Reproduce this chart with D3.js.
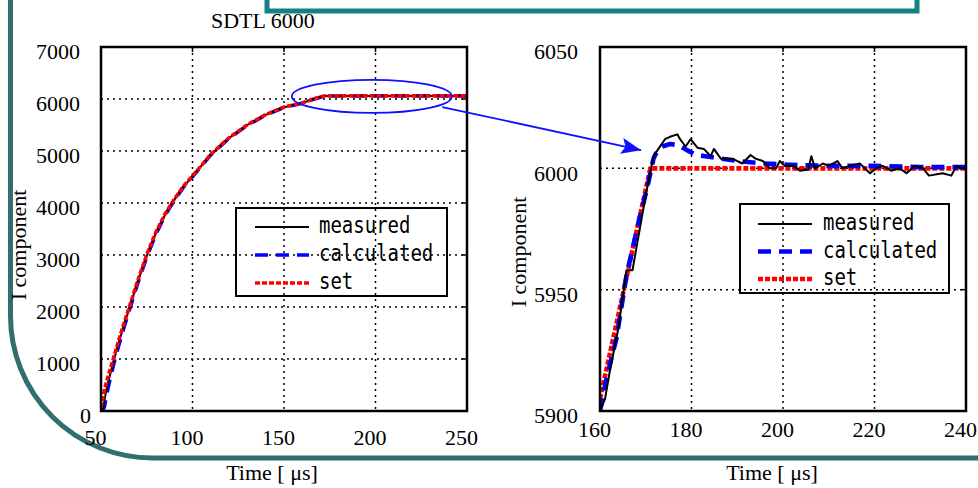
<!DOCTYPE html>
<html>
<head>
<meta charset="utf-8">
<script src="https://cdn.jsdelivr.net/npm/d3@7"></script>
<style>
  body { margin: 0; background: #fff; }
  svg { display: block; }
</style>
</head>
<body>
<svg id="chart"></svg>
<script>
// Left panel: full step response (time in us, I component)
var timeL = [50, 51, 52, 53, 55, 57.5, 60, 62.5, 65, 70, 75, 80, 85, 90, 95, 100, 110, 120, 130, 140, 150, 160, 166, 172, 200, 225, 250]
var setL  = [60, 250, 420, 560, 800, 1100, 1400, 1680, 1950, 2500, 3010, 3440, 3790, 4070, 4320, 4520, 4935, 5255, 5505, 5700, 5845, 5925, 6000, 6060, 6060, 6060, 6060]
var calcL = [0, 0, 100, 300, 620, 980, 1300, 1600, 1880, 2450, 2960, 3400, 3760, 4050, 4300, 4505, 4925, 5245, 5495, 5692, 5838, 5920, 5996, 6058, 6060, 6060, 6060]
var measL = [0, 30, 220, 420, 700, 1040, 1350, 1640, 1920, 2480, 2985, 3420, 3775, 4060, 4310, 4512, 4930, 5250, 5500, 5696, 5842, 5922, 5998, 6060, 6060, 6060, 6060]

// Right panel: zoom of the settling part
var timeSetR = [160, 171, 240]
var setR     = [5905, 6000, 6000]
var timeCalcR = [160, 161.5, 163.6, 165.8, 168.7, 170.2, 171.7, 172.2, 173.6, 175.3, 177.1, 178.9, 181, 183, 186.5, 190.2, 195.6, 201.4, 210, 220, 230, 240]
var calcR     = [5900, 5914, 5930, 5956, 5980, 5991, 6004, 6006, 6009, 6010, 6009.6, 6007.6, 6005.5, 6005, 6004, 6003, 6002, 6001.5, 6001, 6001, 6000.5, 6000.5]
var timeMeasR = [160, 161.1, 162.2, 164, 165.8, 167.1, 170.2, 171.7, 172.4, 174.2, 175.3, 176.9, 177.5, 178.7, 179.8, 181.3, 182.7, 184.2, 184.9, 186.4, 188.9, 191.1, 192.9, 194, 195.6, 197.1, 198.5, 199.3, 200.4, 202.2, 203.7, 205.5, 206.2, 207, 208.7, 210, 211.9, 213, 214.5, 216.8, 219, 220.4, 221.8, 223.6, 225.5, 227, 228.8, 230.6, 231.9, 234.9, 236.8, 237.9, 239, 240]
var measR     = [5900, 5905, 5917, 5934, 5958, 5958, 5991, 6005, 6007, 6012, 6013, 6014, 6012, 6009, 6012, 6008.5, 6008, 6005, 6008, 6004, 6004, 6002, 6005.5, 6004, 6003, 6000, 6000, 6003, 6001, 6001, 5999, 5999.5, 6005, 6000, 6002, 6001, 6003, 6000, 6001, 6002, 5998, 6000, 6001, 5999, 6000, 5998, 6001, 6000, 5997, 5998, 5997, 6001, 6000, 6000]

var xTicksL = [50, 100, 150, 200, 250]
var yTicksL = [0, 1000, 2000, 3000, 4000, 5000, 6000, 7000]
var xTicksR = [160, 180, 200, 220, 240]
var yTicksR = [5900, 5950, 6000, 6050]
var legendNames = ["measured", "calculated", "set"]

var W = 978, H = 488
var serif = "'Liberation Serif', 'Times New Roman', serif"
var mono = "'DejaVu Sans Mono', 'Liberation Mono', monospace"

var svg = d3.select('#chart').attr('width', W).attr('height', H)

// decorative slide frame (drawn first, under the charts)
var teal = "#336e6e"
var r = 142
svg.append("path")
    .attr("d", "M10.5,-5 L10.5," + (458 - r) + " A" + r + "," + r + " 0 0 0 " + (10.5 + r) + ",458 L" + (W + 5) + ",458")
    .attr("fill", "none")
    .attr("stroke", teal)
    .attr("stroke-width", 5)
svg.append("rect")
    .attr("x", 267).attr("y", -20)
    .attr("width", 650).attr("height", 31)
    .attr("fill", "#fff")
    .attr("stroke", "#138181")
    .attr("stroke-width", 5)

svg.append("text")
    .attr("x", 211).attr("y", 28)
    .style("font-family", serif).style("font-size", "22px")
    .text("SDTL 6000")

var styles = {
    measured:   { stroke: "#000", width: 2, dash: null },
    calculated: { stroke: "#0000ff", width: 4, dash: "13,8" },
    set:        { stroke: "#ff0000", width: 4, dash: "5,2" }
}

function drawPanel(p) {
    var x = d3.scaleLinear().domain(p.xDomain).range([p.left, p.right])
    var y = d3.scaleLinear().domain(p.yDomain).range([p.bottom, p.top])
    var g = svg.append("g")

    var clipId = "clip" + p.id
    g.append("clipPath").attr("id", clipId)
        .append("rect")
        .attr("x", p.left).attr("y", p.top)
        .attr("width", p.right - p.left).attr("height", p.bottom - p.top)

    // dotted grid
    g.selectAll(".vgrid").data(p.xTicks.slice(1, -1)).enter().append("line")
        .attr("x1", function(d) { return x(d) }).attr("x2", function(d) { return x(d) })
        .attr("y1", p.top).attr("y2", p.bottom)
        .attr("stroke", "#000").attr("stroke-width", 1.5).attr("stroke-dasharray", "2,4")
    g.selectAll(".hgrid").data(p.yTicks.slice(1, -1)).enter().append("line")
        .attr("y1", function(d) { return y(d) }).attr("y2", function(d) { return y(d) })
        .attr("x1", p.left).attr("x2", p.right)
        .attr("stroke", "#000").attr("stroke-width", 1.5).attr("stroke-dasharray", "2,4")

    // inner tick marks on top and right borders
    g.selectAll(".tt").data(p.xTicks).enter().append("line")
        .attr("x1", function(d) { return x(d) }).attr("x2", function(d) { return x(d) })
        .attr("y1", p.top).attr("y2", p.top + 5)
        .attr("stroke", "#000").attr("stroke-width", 1.5)
    g.selectAll(".rt").data(p.yTicks).enter().append("line")
        .attr("y1", function(d) { return y(d) }).attr("y2", function(d) { return y(d) })
        .attr("x1", p.right - 5).attr("x2", p.right)
        .attr("stroke", "#000").attr("stroke-width", 1.5)

    // axes labels via d3 axes
    var xAxis = g.append("g")
        .attr("transform", "translate(0," + p.bottom + ")")
        .call(d3.axisBottom(x).tickValues(p.xTicks).tickFormat(d3.format("d")).tickSize(0).tickPadding(p.xPad))
    var yAxis = g.append("g")
        .attr("transform", "translate(" + p.left + ",0)")
        .call(d3.axisLeft(y).tickValues(p.yTicks).tickFormat(d3.format("d")).tickSize(0).tickPadding(p.yPad))
    ;[xAxis, yAxis].forEach(function(a) {
        a.attr("font-family", null).attr("font-size", null)
        a.select(".domain").remove()
        a.selectAll("text")
            .style("font-family", serif).style("font-size", "22px").attr("fill", "#000")
    })
    xAxis.selectAll("text").attr("dx", -6)
    yAxis.selectAll("text").attr("dy", "0.53em")
    if (p.zeroShift) {
        yAxis.selectAll("text").filter(function(d) { return d === 0 }).attr("dx", p.zeroShift)
    }

    // series, drawn in the panel's own stacking order
    var all = {
        set: { t: p.tSet, v: p.vSet },
        calculated: { t: p.tCalc, v: p.vCalc },
        measured: { t: p.tMeas, v: p.vMeas }
    }
    var line = d3.line()
        .x(function(d) { return x(d[0]) })
        .y(function(d) { return y(d[1]) })
    var lg = g.append("g").attr("clip-path", "url(#" + clipId + ")")
    p.order.forEach(function(name) {
        var s = all[name], st = styles[name]
        lg.append("path")
            .datum(s.t.map(function(t, i) { return [t, s.v[i]] }))
            .attr("fill", "none")
            .attr("stroke", st.stroke)
            .attr("stroke-width", name === "measured" ? st.width : st.width * p.lineScale)
            .attr("stroke-dasharray", st.dash)
            .attr("stroke-linejoin", "round")
            .attr("d", line)
    })

    // legend (transparent, grid shows through)
    var L = p.legend
    g.append("rect")
        .attr("x", L.x).attr("y", L.y).attr("width", L.w).attr("height", L.h)
        .attr("fill", "none").attr("stroke", "#000").attr("stroke-width", 2)
    legendNames.forEach(function(name, i) {
        var st = styles[name]
        var ly = L.y + L.first + i * L.step
        g.append("line")
            .attr("x1", L.x + L.sx1).attr("x2", L.x + L.sx2)
            .attr("y1", ly).attr("y2", ly)
            .attr("stroke", st.stroke)
            .attr("stroke-width", name === "measured" ? 2 : st.width * p.lineScale)
            .attr("stroke-dasharray", st.dash)
        g.append("text")
            .attr("transform", "translate(" + (L.x + L.tx) + "," + (ly + 6) + ") scale(1,1.2)")
            .style("font-family", mono).style("font-size", "19px")
            .text(name)
    })

    // frame
    g.append("rect")
        .attr("x", p.left).attr("y", p.top)
        .attr("width", p.right - p.left).attr("height", p.bottom - p.top)
        .attr("fill", "none").attr("stroke", "#000").attr("stroke-width", 2.5)

    // axis titles
    g.append("text")
        .attr("x", p.xTitleX).attr("y", 480)
        .attr("text-anchor", "middle")
        .style("font-family", serif).style("font-size", "22px")
        .text("Time [ \u03bcs]")
    g.append("text")
        .attr("transform", "translate(" + p.yTitleX + "," + p.yTitleY + ") rotate(-90)")
        .attr("text-anchor", "middle")
        .style("font-family", serif).style("font-size", "22px")
        .text("I component")

    return { x: x, y: y }
}

var left = drawPanel({
    id: "L", left: 101, right: 467, top: 47, bottom: 411,
    xDomain: [50, 250], yDomain: [0, 7000],
    xTicks: xTicksL, yTicks: yTicksL, xPad: 18, yPad: 21, zeroShift: 11,
    tSet: timeL, vSet: setL, tCalc: timeL, vCalc: calcL, tMeas: timeL, vMeas: measL,
    order: ["calculated", "measured", "set"],
    lineScale: 0.9,
    legend: { x: 236, y: 208, w: 211, h: 88, first: 19, step: 28, sx1: 19, sx2: 73, tx: 83 },
    xTitleX: 272, yTitleX: 26, yTitleY: 245
})

var right = drawPanel({
    id: "R", left: 600, right: 966, top: 47, bottom: 411,
    xDomain: [160, 240], yDomain: [5900, 6050],
    xTicks: xTicksR, yTicks: yTicksR, xPad: 10, yPad: 22, zeroShift: 0,
    tSet: timeSetR, vSet: setR, tCalc: timeCalcR, vCalc: calcR, tMeas: timeMeasR, vMeas: measR,
    order: ["set", "calculated", "measured"],
    lineScale: 1.15,
    legend: { x: 740, y: 204, w: 209, h: 89, first: 20, step: 27.5, sx1: 18, sx2: 72, tx: 83 },
    xTitleX: 772, yTitleX: 526, yTitleY: 252
})

// blue callout: ellipse around the settled part of the left curve, arrow to the right panel
svg.append("defs").append("marker")
    .attr("id", "arrow")
    .attr("viewBox", "0 0 20 16")
    .attr("refX", 20).attr("refY", 8)
    .attr("markerWidth", 20).attr("markerHeight", 16)
    .attr("markerUnits", "userSpaceOnUse")
    .attr("orient", "auto")
    .append("path")
    .attr("d", "M0,0 L20,8 L0,16 L4,8 Z")
    .attr("fill", "#1010ff")

svg.append("ellipse")
    .attr("cx", left.x(198)).attr("cy", left.y(6050))
    .attr("rx", 80).attr("ry", 16.5)
    .attr("fill", "none").attr("stroke", "#1010ff").attr("stroke-width", 1.8)
svg.append("line")
    .attr("x1", left.x(236.5)).attr("y1", left.y(5846))
    .attr("x2", right.x(169)).attr("y2", right.y(6007.5))
    .attr("stroke", "#1010ff").attr("stroke-width", 1.8)
    .attr("marker-end", "url(#arrow)")
</script>
</body>
</html>
